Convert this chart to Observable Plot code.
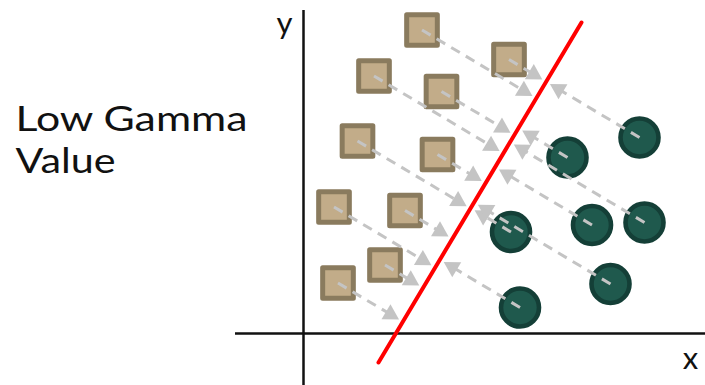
<!DOCTYPE html>
<html>
<head>
<meta charset="utf-8">
<script src="https://cdn.jsdelivr.net/npm/d3@7"></script>
<script src="https://cdn.jsdelivr.net/npm/@observablehq/plot@0.6"></script>
<style>
  body { margin: 0; background: #fff; }
</style>
</head>
<body>
<div id="chart"></div>
<script>
// Class A samples (squares) and class B samples (circles)
const squareX = [11.85, 20.55, 7.05, 13.8, 5.4, 13.4, 3.05, 10.15, 8.15, 3.45];
const squareY = [30.35, 27.4, 25.75, 24.2, 19.25, 17.9, 12.65, 12.3, 6.85, 5.05];
const circleX = [33.6, 26.4, 20.75, 28.85, 34.1, 30.7, 21.65];
const circleY = [19.6, 17.6, 10.15, 10.85, 11.1, 4.95, 2.6];

// Separating boundary, given by its two end points
const boundaryX = [7.5, 27.8];
const boundaryY = [-2.9, 31.1];

// Coordinate axes extents
const xAxisX = [-6.8, 40.2];
const yAxisY = [-5.2, 32.3];

// Text
const titleLines = ["Low Gamma", "Value"];
const titleX = [-28.8, -28.8];
const titleY = [20.3, 16.1];
const axisNames = ["x", "y"];
const axisNameX = [38.7, -1.9];
const axisNameY = [-3.5, 30.0];

// Each sample gets a dashed arrow along the perpendicular towards the boundary
const GAP = 0.45;    // distance of the arrow tip from the boundary
const HEAD = 1.51;   // arrowhead height
function arrowTo(px, py) {
  const [ax, bx] = boundaryX, [ay, by] = boundaryY;
  const len = Math.hypot(bx - ax, by - ay);
  const ux = (bx - ax) / len, uy = (by - ay) / len;
  const t = (px - ax) * ux + (py - ay) * uy;
  const fx = ax + t * ux, fy = ay + t * uy;
  const d = Math.hypot(fx - px, fy - py);
  const nx = (fx - px) / d, ny = (fy - py) / d;
  const tipX = fx - nx * GAP, tipY = fy - ny * GAP;
  return {
    x1: px, y1: py,
    x2: tipX - nx * HEAD * 0.85, y2: tipY - ny * HEAD * 0.85,
    hx: tipX - nx * HEAD * 2 / 3, hy: tipY - ny * HEAD * 2 / 3,
    angle: Math.atan2(nx, ny) * 180 / Math.PI
  };
}

const squares = squareX.map((x, i) => ({x, y: squareY[i]}));
const circles = circleX.map((x, i) => ({x, y: circleY[i]}));
const arrows = [...squares, ...circles].map(p => arrowTo(p.x, p.y));
const boundary = boundaryX.map((x, i) => ({x, y: boundaryY[i]}));
const titles = titleLines.map((text, i) => ({text, x: titleX[i], y: titleY[i]}));
const names = axisNames.map((text, i) => ({text, x: axisNameX[i], y: axisNameY[i]}));

const font = "Lato, 'Open Sans', sans-serif";

const svg = Plot.plot({
  width: 705,
  height: 385,
  margin: 0,
  style: {background: "#fff", fontFamily: font},
  x: {domain: [-30.3, 40.2], axis: null},
  y: {domain: [-5.2, 33.3], axis: null},
  marks: [
    // axes
    Plot.ruleY([0], {x1: xAxisX[0], x2: xAxisX[1], stroke: "#111", strokeWidth: 2.5}),
    Plot.ruleX([0], {y1: yAxisY[0], y2: yAxisY[1], stroke: "#111", strokeWidth: 2.5}),
    // samples
    Plot.dot(squares, {x: "x", y: "y", symbol: "square", r: 17.3,
      fill: "#c2ac89", stroke: "#8a7b5e", strokeWidth: 5, strokeLinejoin: "round"}),
    Plot.dot(circles, {x: "x", y: "y", symbol: "circle", r: 19,
      fill: "#1f594d", stroke: "#143f37", strokeWidth: 4.6}),
    // dashed arrows towards the boundary
    Plot.link(arrows, {x1: "x1", y1: "y1", x2: "x2", y2: "y2",
      stroke: "#c4c4c4", strokeWidth: 3, strokeDasharray: "10,7"}),
    Plot.dot(arrows, {x: "hx", y: "hy", rotate: "angle", symbol: "triangle", r: 6.5,
      fill: "#c4c4c4", stroke: "none"}),
    // boundary
    Plot.line(boundary, {x: "x", y: "y", stroke: "#ff0000", strokeWidth: 4}),
    // text
    Plot.text(titles, {x: "x", y: "y", text: "text", textAnchor: "start", lineAnchor: "bottom",
      fontSize: 34, fill: "#111"}),
    Plot.text(names, {x: "x", y: "y", text: "text", textAnchor: "middle", lineAnchor: "bottom",
      fontSize: 31, fill: "#111"})
  ]
});

// stretch the side label to its set width
const widths = {"Low Gamma": 232, "Value": 100};
d3.select(svg).selectAll("text").each(function() {
  const w = widths[this.textContent];
  if (w) {
    this.setAttribute("textLength", w);
    this.setAttribute("lengthAdjust", "spacingAndGlyphs");
  }
});

document.getElementById("chart").appendChild(svg);
</script>
</body>
</html>
